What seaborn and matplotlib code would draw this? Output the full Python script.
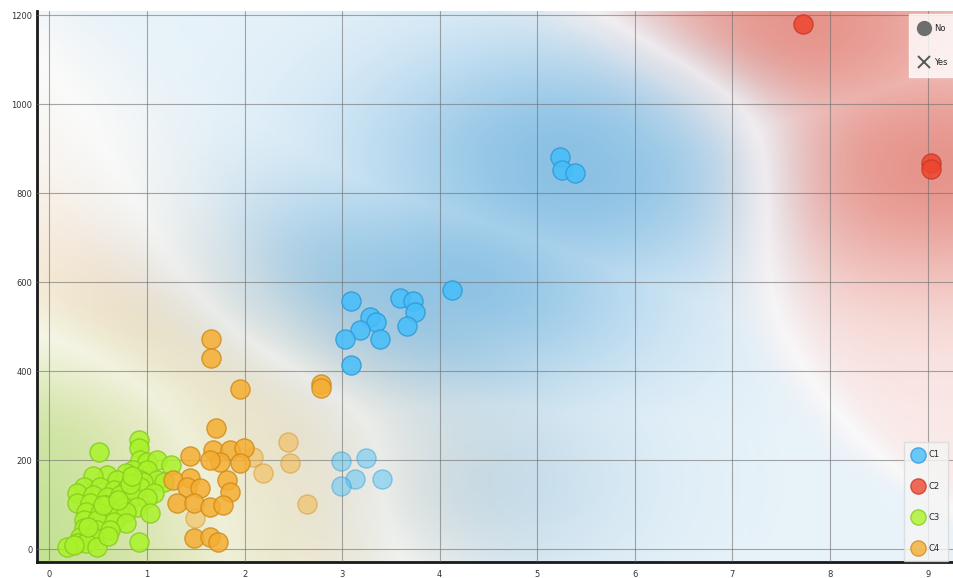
import numpy as np
import pandas as pd
import matplotlib
matplotlib.use("Agg")
import matplotlib.pyplot as plt
from matplotlib.lines import Line2D
import seaborn as sns

# ---- data -------------------------------------------------------------
c1_x = [3.09, 3.59, 3.73, 3.75, 3.29, 3.35, 3.18, 3.03, 3.39, 3.66, 3.09, 4.13,
        5.23, 5.25, 5.39,
        2.99, 3.24, 3.13, 2.99, 3.41]
c1_y = [558, 563, 558, 533, 522, 511, 492, 471, 471, 501, 414, 582,
        882, 852, 844,
        198, 204, 157, 142, 157]
c1_sub = [1] * 15 + [0] * 5

c2_x = [7.72, 9.03, 9.03]
c2_y = [1179, 867, 853]
c2_sub = [1, 1, 1]

c3_x = [0.92, 0.92, 0.51, 0.93, 1.00, 1.10, 1.25, 0.86, 1.00, 0.79, 0.59, 0.45,
        0.69, 0.93, 1.10, 0.96, 1.17, 0.35, 0.52, 0.66, 0.79, 0.93, 1.07, 0.28,
        0.45, 0.59, 0.72, 0.86, 1.00, 0.28, 0.42, 0.59, 0.76, 0.90, 0.38, 0.52,
        0.66, 0.79, 1.03, 0.35, 0.49, 0.66, 0.78, 0.35, 0.49, 0.62, 0.31, 0.45,
        0.28, 0.38, 0.18, 0.49, 0.92, 0.55, 0.70, 0.83, 0.40, 0.25, 0.60, 0.85]
c3_y = [245, 226, 219, 200, 196, 200, 189, 178, 178, 170, 166, 163,
        155, 155, 155, 151, 151, 140, 140, 133, 133, 140, 125, 125,
        121, 118, 121, 118, 114, 103, 103, 99, 95, 95, 84, 80,
        80, 84, 80, 65, 65, 61, 58, 47, 43, 43, 28, 28,
        13, 13, 5, 5, 16, 100, 110, 145, 50, 10, 30, 165]
c3_sub = [1] * 60

c4_x = [1.66, 1.66, 1.95, 2.78, 2.78, 1.71, 1.44, 1.68, 1.85, 1.99, 2.09, 1.95,
        1.75, 1.65, 2.45, 2.47, 2.19, 1.44, 1.27, 1.41, 1.54, 1.82, 1.85, 1.31,
        1.48, 1.65, 1.78, 1.49, 1.48, 1.65, 1.73, 2.64]
c4_y = [472, 429, 360, 370, 361, 273, 209, 222, 222, 226, 207, 193,
        196, 200, 241, 193, 170, 159, 155, 140, 136, 155, 129, 103,
        103, 95, 99, 69, 24, 28, 16, 101]
c4_sub = [1] * 10 + [0] + [1] * 3 + [0, 0, 0] + [1] * 10 + [0] + [1] * 3 + [0]

classes = ["C1", "C2", "C3", "C4"]
shape_labels = ["No", "Yes"]
x_ticks = list(range(0, 10))
y_ticks = list(range(0, 1201, 200))

palette = {"C1": "#46befa", "C2": "#ed462f", "C3": "#aaf22b", "C4": "#f5ae32"}
edges = {"C1": "#2f9ad6", "C2": "#c93a26", "C3": "#86cc1c", "C4": "#d08c1c"}
region = {"C1": "#4a9fd6", "C2": "#d9584a", "C3": "#88d03a", "C4": "#eea55a"}
weight = {"C1": 1.3, "C2": 0.9, "C3": 0.7, "C4": 1.0}

df = pd.concat([
    pd.DataFrame({"x": c1_x, "y": c1_y, "cluster": "C1", "subset": c1_sub}),
    pd.DataFrame({"x": c2_x, "y": c2_y, "cluster": "C2", "subset": c2_sub}),
    pd.DataFrame({"x": c3_x, "y": c3_y, "cluster": "C3", "subset": c3_sub}),
    pd.DataFrame({"x": c4_x, "y": c4_y, "cluster": "C4", "subset": c4_sub}),
], ignore_index=True)

# ---- figure ------------------------------------------------------------
sns.set_theme(style="white")
plt.rcParams["font.family"] = ["DejaVu Sans"]

W, H = 954, 578
fig = plt.figure(figsize=(W / 100, H / 100), dpi=100)
ax = fig.add_axes([36.7 / W, 16.3 / H, (W - 36.7) / W, (561.7 - 11) / H])

xlim = (-0.13, 9.27)
ylim = (-28.5, 1209)
ax.set_xlim(*xlim)
ax.set_ylim(*ylim)

# class-colour regions: weighted kernel vote of all points,
# fading with distance from the nearest point
gx = np.linspace(xlim[0], xlim[1], 470)
gy = np.linspace(ylim[0], ylim[1], 300)
GX, GY = np.meshgrid(gx, gy)
NX = (GX - xlim[0]) / (xlim[1] - xlim[0])
NY = (GY - ylim[0]) / (ylim[1] - ylim[0])
sigma = 0.1
dens = []
dmin = np.full(NX.shape, np.inf)
for c in classes:
    sub = df[df.cluster == c]
    px = (sub.x.values - xlim[0]) / (xlim[1] - xlim[0])
    py = (sub.y.values - ylim[0]) / (ylim[1] - ylim[0])
    d2 = (NX[..., None] - px) ** 2 + (NY[..., None] - py) ** 2
    dens.append(weight[c] * np.exp(-d2 / (2 * sigma ** 2)).sum(-1) + 1e-30)
    dmin = np.minimum(dmin, np.sqrt(d2.min(-1)))
dens = np.stack(dens, -1)
prob = dens / dens.sum(-1, keepdims=True)
rgb = np.array([matplotlib.colors.to_rgb(region[c]) for c in classes])
col = prob @ rgb
pmax = prob.max(-1)
dom = np.clip((pmax - 0.3) / 0.7, 0, 1) ** 0.8
near = np.exp(-dmin ** 2 / (2 * 0.16 ** 2))
alpha = 0.64 * dom * (0.2 + 0.8 * near)
img = np.dstack([col, alpha])
ax.imshow(img, extent=(xlim[0], xlim[1], ylim[0], ylim[1]), origin="lower",
          aspect="auto", interpolation="bilinear", zorder=0)

ax.set_xticks(x_ticks)
ax.set_yticks(y_ticks)
ax.grid(True, color="#6f6f6f", linewidth=0.8, alpha=0.6, zorder=1)
ax.set_axisbelow(False)
for sp in ["top", "right"]:
    ax.spines[sp].set_visible(False)
for sp in ["left", "bottom"]:
    ax.spines[sp].set_color("#1a1a1a")
    ax.spines[sp].set_linewidth(2)
ax.tick_params(axis="both", length=0, labelsize=6, colors="#333333")
ax.tick_params(axis="x", pad=6)
ax.tick_params(axis="y", pad=3)

for flag, a in [(0, 0.45), (1, 0.85)]:
    part = df[df.subset == flag]
    for c in classes:
        pc = part[part.cluster == c]
        if len(pc) == 0:
            continue
        sns.scatterplot(data=pc, x="x", y="y", color=palette[c], s=190,
                        edgecolor=edges[c], linewidth=1.0, alpha=a,
                        legend=False, ax=ax, zorder=3)
ax.set_xlabel("")
ax.set_ylabel("")

# shape legend
shape_handles = [
    Line2D([], [], marker="o", linestyle="", markersize=10,
           markerfacecolor="#6e6e6e", markeredgecolor="#6e6e6e"),
    Line2D([], [], marker="x", linestyle="", markersize=8,
           markeredgecolor="#555555", markeredgewidth=1.4),
]
leg1 = fig.legend(shape_handles, shape_labels, loc="upper left",
                  bbox_to_anchor=(905 / W, 1 - 10 / H), frameon=True,
                  fontsize=6, labelspacing=3.0, handletextpad=0.6,
                  borderpad=1.2, handlelength=1.2)
leg1.get_frame().set_facecolor((1, 1, 1, 0.4))
leg1.get_frame().set_edgecolor((1, 1, 1, 0))
leg1.get_frame().set_boxstyle("square", pad=0)

# class legend
class_handles = [
    Line2D([], [], marker="o", linestyle="", markersize=11,
           markerfacecolor=palette[c], markeredgecolor=edges[c], alpha=0.8)
    for c in classes
]
leg2 = fig.legend(class_handles, classes, loc="upper left",
                  bbox_to_anchor=(900 / W, 1 - 438 / H), frameon=True,
                  fontsize=6, labelspacing=2.65, handletextpad=0.6,
                  borderpad=1.0, handlelength=1.3)
leg2.get_frame().set_facecolor((0.96, 0.96, 0.96, 0.6))
leg2.get_frame().set_edgecolor((0.85, 0.85, 0.85, 0.8))
leg2.get_frame().set_boxstyle("square", pad=0)

fig.savefig("out.png", dpi=100)
